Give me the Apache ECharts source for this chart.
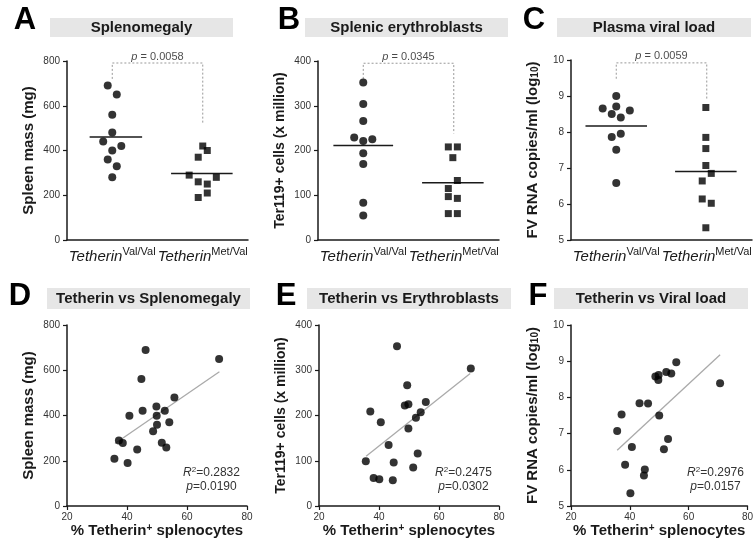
<!DOCTYPE html>
<html>
<head>
<meta charset="utf-8">
<script src="https://cdn.jsdelivr.net/npm/echarts/dist/echarts.min.js"></script>
<style>
  html, body { margin: 0; padding: 0; background: #fff; }
  #chart { width: 756px; height: 549px; }
</style>
</head>
<body>
<div id="chart"></div>
<script>
// genotype groups
const groups = ["Val/Val", "Met/Val"];

// A: spleen mass (mg)
const aValX = [0.45, 0.55, 0.5, 0.5, 0.4, 0.5, 0.6, 0.45, 0.55, 0.5];
const aValY = [690, 650, 560, 480, 440, 400, 420, 360, 330, 280];
const aMetX = [1.5, 1.55, 1.45, 1.35, 1.45, 1.55, 1.65, 1.55, 1.45];
const aMetY = [420, 400, 370, 290, 260, 250, 280, 210, 190];
const aMeans = [460, 297];

// B: Ter119+ cells (x million)
const bValX = [0.5, 0.5, 0.5, 0.4, 0.5, 0.6, 0.5, 0.5, 0.5, 0.5];
const bValY = [352, 304, 266, 229, 221, 225, 194, 170, 83, 55];
const bMetX = [1.44, 1.54, 1.49, 1.54, 1.44, 1.44, 1.54, 1.44, 1.54];
const bMetY = [208, 208, 184, 133, 115, 97, 93, 59, 59];
const bMeans = [211, 128];

// C: FV RNA copies/ml (log10)
const cValX = [0.5, 0.35, 0.5, 0.65, 0.45, 0.55, 0.45, 0.55, 0.5, 0.5];
const cValY = [9.0, 8.65, 8.71, 8.6, 8.5, 8.4, 7.86, 7.95, 7.51, 6.58];
const cMetX = [1.49, 1.49, 1.49, 1.49, 1.55, 1.45, 1.45, 1.55, 1.49];
const cMetY = [8.68, 7.85, 7.54, 7.07, 6.85, 6.64, 6.14, 6.02, 5.34];
const cMeans = [8.17, 6.9];

// p values of the group comparisons
const pTop = ["0.0058", "0.0345", "0.0059"];

// D-F: % Tetherin+ splenocytes vs readouts
const dX = [35.8, 37.3, 38.6, 40.2, 40.8, 43.4, 44.8, 45.2, 46.2, 48.7, 49.8, 49.9, 50.0, 51.6, 52.6, 53.1, 54.1, 55.8, 70.7];
const dY = [209, 290, 279, 190, 399, 250, 561, 421, 690, 330, 440, 399, 359, 280, 421, 259, 370, 480, 650];
const eX = [35.6, 37.1, 38.2, 40.1, 40.6, 43.2, 44.6, 44.9, 46.0, 48.6, 49.8, 49.4, 49.8, 51.4, 52.3, 52.9, 53.9, 55.6, 70.6];
const eY = [99, 209, 62, 59, 185, 135, 57, 96, 353, 222, 225, 267, 171, 85, 195, 116, 207, 230, 304];
const fX = [35.7, 37.2, 38.4, 40.2, 40.7, 43.3, 44.8, 45.1, 46.2, 48.7, 49.8, 49.7, 50.0, 51.6, 53.0, 52.4, 54.1, 55.8, 70.7];
const fY = [7.07, 7.53, 6.14, 5.35, 6.63, 7.84, 5.84, 6.01, 7.83, 8.58, 8.62, 8.48, 7.50, 6.57, 6.85, 8.70, 8.66, 8.97, 8.39];

// regression line ends [x1, y1, x2, y2]
const dFit = [36.0, 276, 70.8, 593];
const eFit = [35.7, 110, 70.4, 293];
const fFit = [35.7, 6.54, 70.7, 9.18];

const r2 = ["0.2832", "0.2475", "0.2976"];
const pFit = ["0.0190", "0.0302", "0.0157"];

const letters = ["A", "B", "C", "D", "E", "F"];
const titles = ["Splenomegaly", "Splenic erythroblasts", "Plasma viral load",
  "Tetherin vs Splenomegaly", "Tetherin vs Erythroblasts", "Tetherin vs Viral load"];
const yNames = ["Spleen mass (mg)", "Ter119+ cells (x million)", "FV RNA copies/ml (log{sub|10})"];
const yRanges = [[0, 800, 200], [0, 400, 100], [5, 10, 1]];

const FONT = "'Liberation Sans', Arial, Helvetica, sans-serif";
const INK = "#1a1a1a";

const topGrids = [
  { left: 67, top: 61, width: 181, height: 179 },
  { left: 318, top: 61, width: 181, height: 179 },
  { left: 571, top: 60, width: 181, height: 180 },
];
const botGrids = [
  { left: 67, top: 325, width: 180, height: 181 },
  { left: 319, top: 325, width: 180, height: 181 },
  { left: 571, top: 325, width: 180, height: 181 },
];

const axisLine = { lineStyle: { color: INK, width: 1.5 } };
const axisTick = { length: 4, lineStyle: { color: INK, width: 1.2 } };
const nameRich = {
  sub: { fontSize: 10, fontWeight: "bold", fontFamily: FONT, color: INK, verticalAlign: "bottom", lineHeight: 8 },
  sup: { fontSize: 10, fontWeight: "bold", fontFamily: FONT, color: INK, verticalAlign: "top", lineHeight: 8 },
};

const grid = [];
const xAxis = [];
const yAxis = [];
const series = [];

function yAx(gi, k, nameSize) {
  const r = yRanges[k];
  return {
    gridIndex: gi, type: "value", min: r[0], max: r[1], interval: r[2],
    name: yNames[k], nameLocation: "middle", nameGap: 31,
    nameTextStyle: { fontSize: nameSize, fontWeight: "bold", fontFamily: FONT, color: INK, rich: nameRich },
    axisLine: { show: true, ...axisLine }, axisTick: { show: true, ...axisTick },
    axisLabel: { fontSize: 10, fontFamily: FONT, color: "#333", margin: 7 },
    splitLine: { show: false },
  };
}

const topData = [
  [aValX, aValY, aMetX, aMetY, aMeans, [720, 791, 523], [0.25, 0.83]],
  [bValX, bValY, bMetX, bMetY, bMeans, [360, 395, 238], [0.17, 0.83]],
  [cValX, cValY, cMetX, cMetY, cMeans, [9.48, 9.92, 8.92], [0.16, 0.84]],
];
const nameSizes = [15, 14, 15];

topData.forEach((d, k) => {
  const [vx, vy, mx, my, means, br, valSpan] = d;
  grid.push(topGrids[k]);
  const gi = k;
  // category axis for ticks + labels
  xAxis.push({
    gridIndex: gi, type: "category", data: groups, boundaryGap: true,
    axisLine: axisLine, axisTick: { alignWithLabel: true, ...axisTick },
    axisLabel: {
      interval: 0, margin: 6,
      formatter: (v) => "{i|Tetherin}{s|" + v + "}",
      rich: {
        i: { fontStyle: "italic", fontSize: 15, fontFamily: FONT, color: INK, lineHeight: 22 },
        s: { fontSize: 11, fontFamily: FONT, color: INK, verticalAlign: "top", lineHeight: 9 },
      },
    },
  });
  // hidden value axis to place jittered points
  xAxis.push({ gridIndex: gi, type: "value", min: 0, max: 2, show: false });
  yAxis.push(yAx(gi, k, nameSizes[k]));
  const xi = xAxis.length - 1;
  const yi = yAxis.length - 1;

  series.push({
    type: "line", xAxisIndex: xi, yAxisIndex: yi, symbol: "none", silent: true,
    lineStyle: { color: "#999", width: 1, type: [2, 2] },
    data: [[0.5, br[0]], [0.5, br[1]], [1.5, br[1]], [1.5, br[2]]],
  });
  series.push({
    type: "scatter", xAxisIndex: xi, yAxisIndex: yi, symbolSize: 0, clip: false, silent: true,
    data: [[1, br[1]]],
    label: {
      show: true, position: "top", distance: 1, color: INK, fontSize: 11, fontFamily: FONT,
      formatter: "{i|p} = " + pTop[k],
      rich: { i: { fontStyle: "italic", fontSize: 11, fontFamily: FONT, color: INK } },
    },
  });
  series.push({
    type: "line", xAxisIndex: xi, yAxisIndex: yi, symbol: "none", silent: true,
    lineStyle: { color: INK, width: 1.5 },
    data: [[valSpan[0], means[0]], [valSpan[1], means[0]]],
  });
  series.push({
    type: "line", xAxisIndex: xi, yAxisIndex: yi, symbol: "none", silent: true,
    lineStyle: { color: INK, width: 1.5 },
    data: [[1.15, means[1]], [1.83, means[1]]],
  });
  series.push({
    type: "scatter", xAxisIndex: xi, yAxisIndex: yi, symbol: "circle", symbolSize: 8,
    itemStyle: { color: "#000" }, z: 5,
    data: vx.map((x, i) => [x, vy[i]]),
  });
  series.push({
    type: "scatter", xAxisIndex: xi, yAxisIndex: yi, symbol: "rect", symbolSize: 7,
    itemStyle: { color: "#000" }, z: 5,
    data: mx.map((x, i) => [x, my[i]]),
  });
});

const botData = [[dX, dY, dFit], [eX, eY, eFit], [fX, fY, fFit]];
botData.forEach((d, k) => {
  const [xs, ys, fit] = d;
  grid.push(botGrids[k]);
  const gi = grid.length - 1;
  xAxis.push({
    gridIndex: gi, type: "value", min: 20, max: 80, interval: 20,
    name: "% Tetherin{sup|+} splenocytes", nameLocation: "middle", nameGap: 17,
    nameTextStyle: { fontSize: 15, fontWeight: "bold", fontFamily: FONT, color: INK, rich: nameRich },
    axisLine: axisLine, axisTick: axisTick,
    axisLabel: { fontSize: 10, fontFamily: FONT, color: "#333", margin: 6 },
    splitLine: { show: false },
  });
  yAxis.push(yAx(gi, k, nameSizes[k]));
  const xi = xAxis.length - 1;
  const yi = yAxis.length - 1;
  series.push({
    type: "line", xAxisIndex: xi, yAxisIndex: yi, symbol: "none", silent: true,
    lineStyle: { color: "#aaa", width: 1.3 },
    data: [[fit[0], fit[1]], [fit[2], fit[3]]],
  });
  series.push({
    type: "scatter", xAxisIndex: xi, yAxisIndex: yi, symbol: "circle", symbolSize: 8,
    itemStyle: { color: "#000" }, z: 5,
    data: xs.map((x, i) => [x, ys[i]]),
  });
});

// panel decorations: title bars, letters, fit statistics
const boxes = [[50, 18, 183, 19], [305, 18, 203, 19], [557, 18, 194, 19],
  [47, 288, 203, 21], [307, 288, 204, 21], [554, 288, 194, 21]];
const letterPos = [[25, 20], [289, 20], [534, 20], [20, 296], [286, 296], [538, 296]];
const graphic = [];
boxes.forEach((b, i) => {
  graphic.push({
    type: "rect", shape: { x: b[0], y: b[1], width: b[2], height: b[3] },
    style: { fill: "#e6e6e6" }, silent: true,
  });
  graphic.push({
    type: "text", silent: true,
    style: {
      text: titles[i], x: b[0] + b[2] / 2, y: b[1] + b[3] / 2, align: "center", verticalAlign: "middle",
      fontSize: 15, fontWeight: "bold", fontFamily: FONT, fill: INK,
    },
  });
  graphic.push({
    type: "text", silent: true,
    style: {
      text: letters[i], x: letterPos[i][0], y: letterPos[i][1], align: "center", verticalAlign: "middle",
      fontSize: 31, fontWeight: "bold", fontFamily: FONT, fill: "#000",
    },
  });
});
botGrids.forEach((g, k) => {
  graphic.push({
    type: "text", silent: true,
    style: {
      text: "{i|R}{sup|2}=" + r2[k] + "\n{i|p}=" + pFit[k],
      x: g.left + 144.5, y: 480, align: "center", verticalAlign: "middle",
      fontSize: 12, fontFamily: FONT, fill: "#333", lineHeight: 14,
      rich: {
        i: { fontStyle: "italic", fontSize: 12, fontFamily: FONT, fill: "#333", lineHeight: 14 },
        sup: { fontSize: 8, fontFamily: FONT, fill: "#333", verticalAlign: "top", lineHeight: 8 },
      },
    },
  });
});

const chart = echarts.init(document.getElementById("chart"), null, { renderer: "canvas" });
chart.setOption({
  animation: false,
  backgroundColor: "#fff",
  grid, xAxis, yAxis, series, graphic,
});
</script>
</body>
</html>
